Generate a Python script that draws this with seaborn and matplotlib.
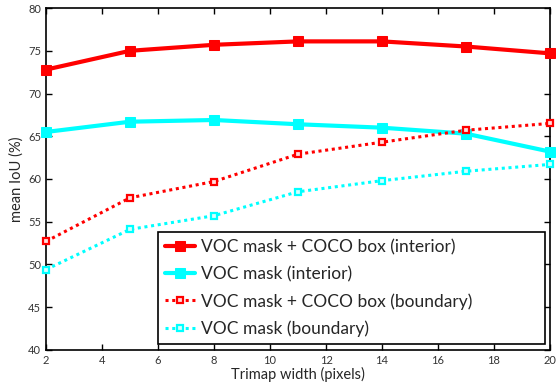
import pandas as pd
import seaborn as sns
import matplotlib
matplotlib.use('Agg')
import matplotlib.pyplot as plt

# trimap widths and mean IoU per setting
widths = [2, 5, 8, 11, 14, 17, 20]
coco_interior = [72.8, 75.0, 75.7, 76.1, 76.1, 75.5, 74.7]
voc_interior = [65.5, 66.7, 66.9, 66.4, 66.0, 65.3, 63.2]
coco_boundary = [52.7, 57.8, 59.7, 62.9, 64.3, 65.7, 66.5]
voc_boundary = [49.4, 54.1, 55.7, 58.5, 59.8, 60.9, 61.7]

labels = ['VOC mask + COCO box (interior)',
          'VOC mask (interior)',
          'VOC mask + COCO box (boundary)',
          'VOC mask (boundary)']
series = [coco_interior, voc_interior, coco_boundary, voc_boundary]
colors = ['#ff0000', '#00ffff', '#ff0000', '#00ffff']
solid = [True, True, False, False]

sns.set_style('ticks')
plt.rcParams['font.family'] = ['Lato', 'DejaVu Sans']

fig = plt.figure(figsize=(5.56, 3.84), dpi=100)
ax = fig.add_axes([0.083, 0.089, 0.906, 0.89])

for lab, vals, col, s in zip(labels, series, colors, solid):
    df = pd.DataFrame({'w': widths, 'iou': vals})
    if s:
        sns.lineplot(data=df, x='w', y='iou', ax=ax, color=col, lw=3,
                     marker='s', markersize=7, markeredgecolor=col,
                     markerfacecolor=col, label=lab, clip_on=False, zorder=3)
    else:
        sns.lineplot(data=df, x='w', y='iou', ax=ax, color=col, lw=2.2,
                     linestyle=(0, (1, 1.2)), marker='s', markersize=5,
                     markeredgecolor=col, markeredgewidth=1.6,
                     markerfacecolor='#ffe0e0' if col == '#ff0000' else '#d8ffff',
                     label=lab, clip_on=False, zorder=3)

ax.set_xlim(2, 20)
ax.set_ylim(40, 80)
ax.set_xticks(range(2, 21, 2))
ax.set_yticks(range(40, 81, 5))
ax.tick_params(direction='in', top=True, right=True, labelsize=8,
               length=4, width=1, colors='black', labelcolor='#333333')
for sp in ax.spines.values():
    sp.set_linewidth(1.2)
    sp.set_color('black')
ax.set_xlabel('Trimap width (pixels)', fontsize=10.5, labelpad=1)
ax.set_ylabel('mean IoU (%)', fontsize=10.5, labelpad=3)

leg = ax.legend(loc='lower left', bbox_to_anchor=(0.222, 0.0175, 0.768, 0.336),
                mode='expand', frameon=True, fancybox=False,
                framealpha=1, edgecolor='black', borderaxespad=0,
                handlelength=1.75, handletextpad=0.3, labelspacing=0.62,
                borderpad=0.4, prop={'family': 'Lato', 'size': 12.5})
leg.get_frame().set_linewidth(1.2)
leg.set_zorder(5)

fig.savefig('out.png', dpi=100)
